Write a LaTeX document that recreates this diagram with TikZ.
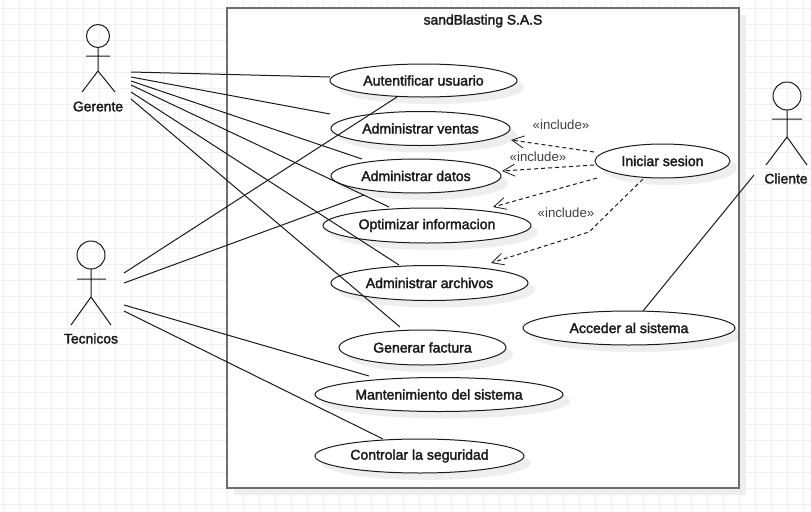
\documentclass[tikz,border=0pt]{standalone}
\usepackage{fontspec}
\setmainfont{Liberation Sans}
\usetikzlibrary{arrows.meta,shapes.geometric}
\definecolor{gridc}{HTML}{EFEFEF}
\definecolor{shadowc}{HTML}{EEEEEE}
\definecolor{framec}{HTML}{6E6E6E}
\definecolor{inkc}{HTML}{1A1A1A}
\newfontfamily\labelfont[FakeBold=2.2]{Liberation Sans}
\tikzset{
  x=0.75pt,y=-0.75pt,
  usecase/.style={ellipse,draw=inkc,fill=white,line width=0.75pt,inner sep=0pt,font=\labelfont\fontsize{10.55}{12}\selectfont,text=inkc},
  assoc/.style={draw=inkc,line width=0.75pt},
  incl/.style={draw=inkc,line width=0.75pt,dash pattern=on 3pt off 2.25pt,-{Straight Barb[length=9pt,width=9pt,line width=0.6pt]}},
  stick/.style={draw=inkc,line width=0.75pt},
  actorname/.style={font=\labelfont\fontsize{10.4}{12}\selectfont,text=inkc,inner sep=0pt},
  inclabel/.style={font=\fontsize{9.9}{12}\selectfont,text=black!75,inner sep=0pt},
  framebox/.style={draw=framec,line width=1.5pt},
}
% #1 name #2 cx #3 cy #4 w #5 h #6 text
\newcommand{\usecaseat}[6]{%
  \fill[shadowc] (#2+7,#3+7) ellipse [x radius=#4/2,y radius=#5/2];
  \node[usecase,minimum width=#4*0.75pt,minimum height=#5*0.75pt] (#1) at (#2,#3) {#6};
}
\begin{document}
\begin{tikzpicture}
\useasboundingbox (0,0) rectangle (811,511);
\fill[white] (0,0) rectangle (811,511);
\foreach \gx in {3,19,...,811} \draw[gridc,line width=0.6pt] (\gx,0) -- (\gx,511);
\foreach \gy in {8,24,...,511} \draw[gridc,line width=0.6pt] (0,\gy) -- (811,\gy);
% system boundary
\fill[shadowc] (234,15) rectangle (746,495);
\node[framebox,fill=white,outer sep=0pt,minimum width=512*0.75pt,minimum height=480*0.75pt,inner sep=0pt,anchor=north west] (system) at (227,8) {};
\node[actorname] (title) at (483,21) {sandBlasting S.A.S};
% coordinates
\coordinate (g1) at (131,72);\coordinate (g2) at (131,77);\coordinate (g3) at (131,81);
\coordinate (g4) at (131,85);\coordinate (g5) at (131,92);\coordinate (g6) at (131,99);
\coordinate (t1) at (124,273);\coordinate (t2) at (124,283);\coordinate (t3) at (124,305);\coordinate (t4) at (124,311);
\coordinate (c1) at (754,175);
\coordinate (bend) at (589,232);
\coordinate (au) at (330,77);\coordinate (ve) at (330,114);\coordinate (da) at (362,159);
\coordinate (op) at (389,207);\coordinate (ar) at (399,265);\coordinate (fa) at (400,327);
\coordinate (tau) at (397,97);\coordinate (top) at (364,195);\coordinate (tma) at (369,376);\coordinate (tco) at (383,439);
\coordinate (cac) at (643,311);
\coordinate (i1s) at (594,152);\coordinate (i1e) at (511,140);
\coordinate (i2s) at (594,165);\coordinate (i2e) at (502,171);
\coordinate (i3s) at (597,178);\coordinate (i3e) at (493,207);
\coordinate (i4s) at (643,179);\coordinate (i4e) at (491,263);
% use cases
\usecaseat{e1}{423.5}{80.5}{187}{33}{Autentificar usuario}
\usecaseat{e2}{420.5}{128.5}{179}{34}{Administrar ventas}
\usecaseat{e3}{416}{176}{170}{34}{Administrar datos}
\usecaseat{e4}{427}{225.5}{208}{35}{Optimizar informacion}
\usecaseat{e5}{429.5}{283}{197}{35}{Administrar archivos}
\usecaseat{e6}{422.5}{347.5}{167}{35}{Generar factura}
\usecaseat{e7}{439}{394.5}{248}{34}{Mantenimiento del sistema}
\usecaseat{e8}{419.5}{456}{209}{34}{Controlar la seguridad}
\usecaseat{e9}{662.5}{161}{135}{34}{Iniciar sesion}
\usecaseat{e10}{629}{328}{212}{34}{Acceder al sistema}
% frame stays unbroken above the shadow of the last use case
\draw[framebox] (system.north east) -- (system.south east);
% associations
\draw[assoc] (g1) -- (au);\draw[assoc] (g2) -- (ve);\draw[assoc] (g3) -- (da);
\draw[assoc] (g4) -- (op);\draw[assoc] (g5) -- (ar);\draw[assoc] (g6) -- (fa);
\draw[assoc] (t1) -- (tau);\draw[assoc] (t2) -- (top);\draw[assoc] (t3) -- (tma);\draw[assoc] (t4) -- (tco);
\draw[assoc] (c1) -- (cac);
% include
\draw[incl] (i1s) -- (i1e);
\draw[incl] (i2s) -- (i2e);
\draw[incl] (i3s) -- (i3e);
\draw[incl] (i4s) -- (bend) -- (i4e);
\node[inclabel] (l1) at (561,125) {«include»};
\node[inclabel] (l2) at (538,157) {«include»};
\node[inclabel] (l3) at (566,213) {«include»};
% actors
\draw[stick] (98,36) circle [radius=11.5];
\draw[stick] (98,47.5) -- (98,71) (86,56) -- (110,56) (82,92) -- (98,71) -- (115,92);
\node[actorname] (gerente) at (98,106.5) {Gerente};
\draw[stick] (91,255) circle [radius=14];
\draw[stick] (91,269) -- (91,297) (77,279) -- (106,279) (71,325) -- (91,297) -- (111,325);
\node[actorname] (tecnicos) at (91,338.5) {Tecnicos};
\draw[stick] (787,96) circle [radius=14];
\draw[stick] (787,110) -- (787,137) (772,119) -- (802,119) (766,165) -- (787,137) -- (807,165);
\node[actorname] (cliente) at (786,178.5) {Cliente};
\end{tikzpicture}
\end{document}
